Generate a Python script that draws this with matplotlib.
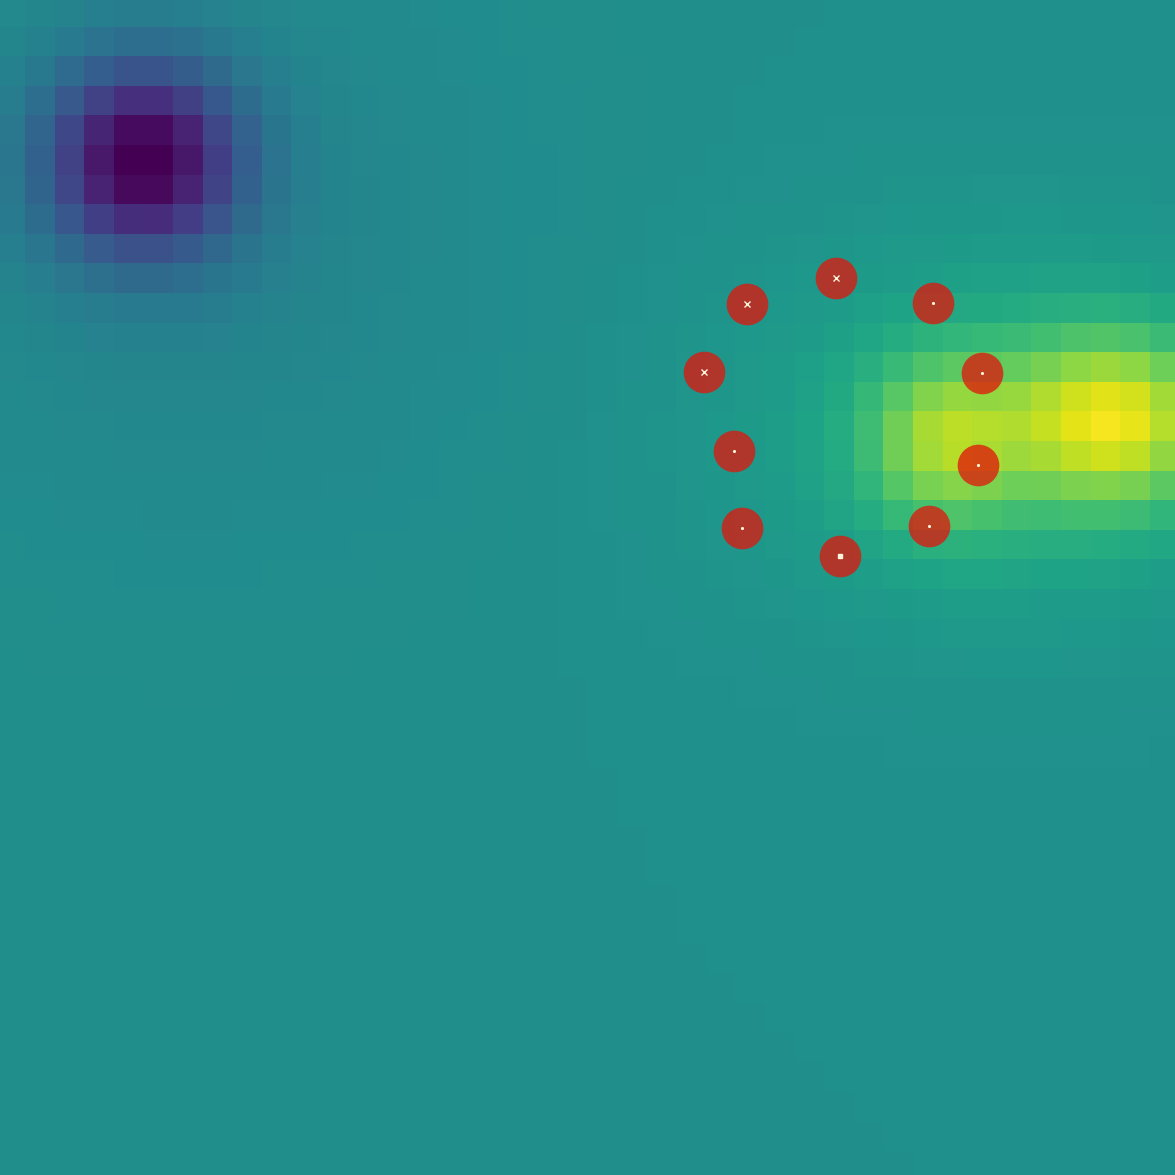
import matplotlib
matplotlib.use("Agg")
import matplotlib.pyplot as plt
import numpy as np

# grid size of the heat map (cells)
n_cells = 40

# blobs that make up the field: centre x, centre y (cells), amplitude, sigma x, sigma y
blob_x = [5.0, 6.5, 37.8, 34.5, 32.0]
blob_y = [5.5, 7.5, 14.3, 14.7, 15.0]
blob_amp = [-0.95, -0.11, 0.74, 0.27, 0.5]
blob_sx = [2.3, 7.0, 2.5, 6.0, 1.8]
blob_sy = [2.3, 7.0, 2.0, 4.2, 2.0]

# red points (cell coordinates)
pts_x = [28.39, 25.38, 31.66, 23.94, 33.33, 24.95, 33.18, 25.21, 31.54, 28.54]
pts_y = [9.48, 10.37, 10.35, 12.68, 12.69, 15.34, 15.81, 17.95, 17.87, 18.88]
# small white marks inside each point
inner_marks = ['x', 'x', '.', 'x', '.', '.', '.', '.', '.', 's']

# build field on the cell centres
cc = np.arange(n_cells) + 0.5
xx, yy = np.meshgrid(cc, cc)
field = np.zeros_like(xx)
for bx, by, a, sx, sy in zip(blob_x, blob_y, blob_amp, blob_sx, blob_sy):
    field += a * np.exp(-((xx - bx) ** 2 / (2 * sx ** 2) + (yy - by) ** 2 / (2 * sy ** 2)))

fig = plt.figure(figsize=(11.75, 11.75), dpi=100)
ax = fig.add_axes([0, 0, 1, 1])
ax.imshow(field, cmap='viridis', vmin=-1, vmax=1, interpolation='nearest',
          extent=(0, n_cells, n_cells, 0))

ax.scatter(pts_x, pts_y, s=900, color=(226 / 255, 20 / 255, 10 / 255), alpha=0.75,
           linewidths=0, zorder=3)
for x, y, m in zip(pts_x, pts_y, inner_marks):
    size = 5 if m == 'x' else 2.5
    ax.plot(x, y, marker=m, color='#fff4dc', markersize=size, markeredgewidth=1,
            linestyle='none', zorder=4)

ax.set_xlim(0.15, 39.85)
ax.set_ylim(39.8, 0.1)
ax.axis('off')

fig.savefig("out.png", dpi=100)
